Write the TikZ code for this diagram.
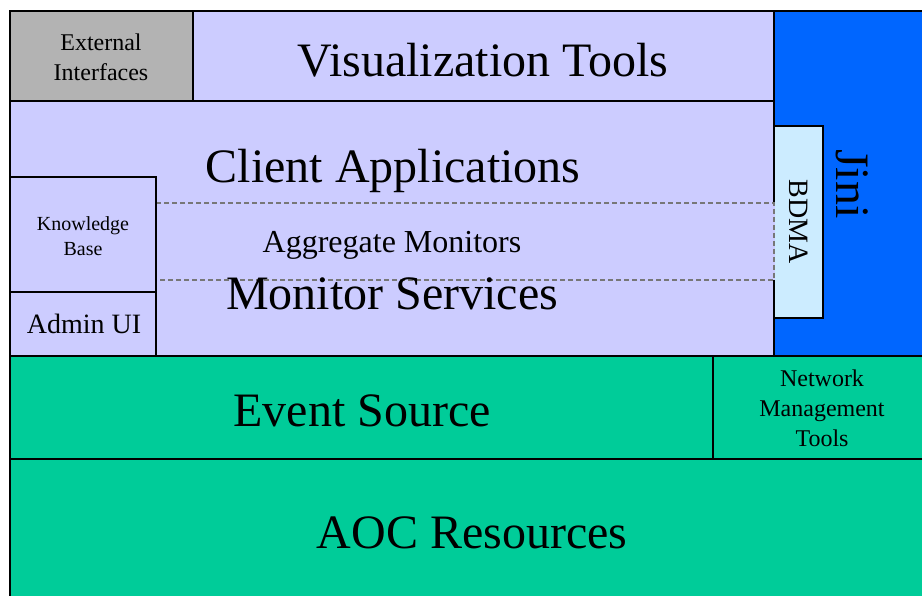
\documentclass[tikz,border=0pt]{standalone}
\usepackage{fontspec}
\setmainfont{Liberation Serif}
\definecolor{lav}{HTML}{CCCCFF}
\definecolor{extgray}{HTML}{B3B3B3}
\definecolor{jiniblue}{HTML}{0066FF}
\definecolor{bdmablue}{HTML}{CCECFF}
\definecolor{evgreen}{HTML}{00CC99}
\definecolor{dashgray}{HTML}{777777}
\tikzset{
  blk/.style={draw=black, line width=1.2pt},
  dashln/.style={draw=dashgray, line width=1.3pt, dash pattern=on 5pt off 3pt},
  big/.style={font=\fontsize{48}{56}\selectfont, inner sep=0pt, anchor=base},
  mid/.style={font=\fontsize{32}{38}\selectfont, inner sep=0pt, anchor=base},
  sm/.style={font=\fontsize{28}{33}\selectfont, inner sep=0pt, anchor=base},
  lbl/.style={font=\fontsize{24}{30}\selectfont, inner sep=0pt, align=center},
  lbls/.style={font=\fontsize{20}{25}\selectfont, inner sep=0pt, align=center}
}
\begin{document}
\begin{tikzpicture}[x=1pt,y=-1pt]
\useasboundingbox (0,0) rectangle (922,596);
% layers
\path[blk, fill=evgreen] (10,459) rectangle (930,605);
\path[blk, fill=evgreen] (10,356) rectangle (713,459);
\path[blk, fill=evgreen] (713,356) rectangle (930,459);
\path[blk, fill=lav] (10,101) rectangle (774,356);
\path[blk, fill=jiniblue] (774,11) rectangle (930,356);
\path[blk, fill=bdmablue] (774,126) rectangle (823,318);
\path[blk, fill=extgray] (10,11) rectangle (193,101);
\path[blk, fill=lav] (193,11) rectangle (774,101);
% aggregate monitors (dashed)
\fill[lav] (156,203) rectangle (775,280);
\fill[bdmablue] (775,203) rectangle (776,280);
\draw[dashln] (156,203) -- (774,203) -- (774,280) -- (156,280);
% knowledge base / admin
\path[blk, fill=lav] (10,177) rectangle (156,292);
\path[blk, fill=lav] (10,292) rectangle (156,356);
% texts
\node[lbl] (ext) at (101,57) {External\\Interfaces};
\node[big] (vis) at (483,77) {Visualization Tools};
\node[big] (client) at (393,183) {Client Applications};
\node[mid] (agg) at (392,253) {Aggregate Monitors};
\node[big] (mon) at (392,310) {Monitor Services};
\node[lbls] (kb) at (83,236) {Knowledge\\Base};
\node[sm] (admin) at (84,334) {Admin UI};
\node[big] (event) at (362,426) {Event Source};
\node[lbl] (nmt) at (822,408) {Network\\Management\\Tools};
\node[big] (aoc) at (472,548) {AOC Resources};
\node[font=\fontsize{48}{56}\selectfont, inner sep=0pt, rotate=-90] (jini) at (852,184) {Jini};
\node[font=\fontsize{28}{33}\selectfont, inner sep=0pt, rotate=-90] (bdma) at (799,222) {BDMA};
\end{tikzpicture}
\end{document}
